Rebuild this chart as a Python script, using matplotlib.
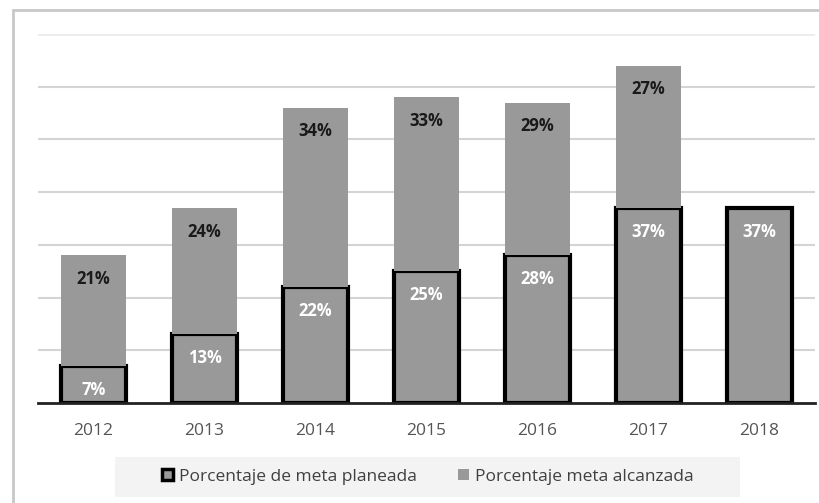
import matplotlib.pyplot as plt
from matplotlib.patches import Rectangle, Patch

years = ['2012', '2013', '2014', '2015', '2016', '2017', '2018']
planeada = [7, 13, 22, 25, 28, 37, 37]
alcanzada = [21, 24, 34, 33, 29, 27, 0]

plt.rcParams['font.family'] = ['Open Sans', 'DejaVu Sans']

fig = plt.figure(figsize=(8.2, 5.03), dpi=100)
ax = fig.add_axes([38 / 820, 100 / 503, 777 / 820, 369 / 503])

# borde gris de la figura
fig.patches.append(Rectangle((13 / 820, -0.05), 1.0, (493 / 503) + 0.05,
                             transform=fig.transFigure, fill=False,
                             edgecolor='#c8c8c8', linewidth=2))
# fondo de la leyenda
fig.patches.append(Rectangle((115 / 820, 6 / 503), 625 / 820, 40 / 503,
                             transform=fig.transFigure, facecolor='#f3f3f3',
                             edgecolor='none'))

gris = '#999999'
x = range(len(years))
w = 0.59

ax.bar(x, planeada, width=w, color=gris, edgecolor='black', linewidth=3, zorder=3)
ax.bar(x, [a if a else float('nan') for a in alcanzada], width=w,
       bottom=planeada, color=gris, edgecolor='none', zorder=3)

for i in x:
    ax.annotate(f'{planeada[i]}%', (i, planeada[i]), xytext=(0, -17),
                textcoords='offset points', ha='center', va='center',
                color='white', fontsize=12, fontweight='bold', zorder=5)
    if alcanzada[i]:
        top = planeada[i] + alcanzada[i]
        ax.annotate(f'{alcanzada[i]}%', (i, top), xytext=(0, -17),
                    textcoords='offset points', ha='center', va='center',
                    color='#1a1a1a', fontsize=12, fontweight='bold', zorder=5)

ax.set_ylim(0, 70)
ax.set_xlim(-0.5, 6.5)
ax.set_yticks(range(10, 70, 10))
ax.yaxis.grid(True, color='#d4d4d4', linewidth=1.5, zorder=0)
ax.axhline(70, color='#ececec', linewidth=2, zorder=0)
ax.tick_params(axis='y', left=False, labelleft=False)
ax.tick_params(axis='x', bottom=False, labelsize=12.5, labelcolor='#555555', pad=11)
ax.set_xticks(list(x))
ax.set_xticklabels(years)
for s in ['top', 'right', 'left']:
    ax.spines[s].set_visible(False)
ax.spines['bottom'].set_color('#222222')
ax.spines['bottom'].set_linewidth(2)
ax.spines['bottom'].set_zorder(4)

handles = [Patch(facecolor=gris, edgecolor='black', linewidth=2.5),
           Patch(facecolor=gris, edgecolor='none')]
leg = fig.legend(handles, ['Porcentaje de meta planeada', 'Porcentaje meta alcanzada'],
                 loc='center', bbox_to_anchor=(428 / 820, 1 - 477 / 503), ncol=2,
                 frameon=False, fontsize=12.5, handlelength=0.6, handleheight=0.6,
                 handletextpad=0.35, columnspacing=2.4)
for t in leg.get_texts():
    t.set_color('#404040')

fig.savefig('out.png', dpi=100)
